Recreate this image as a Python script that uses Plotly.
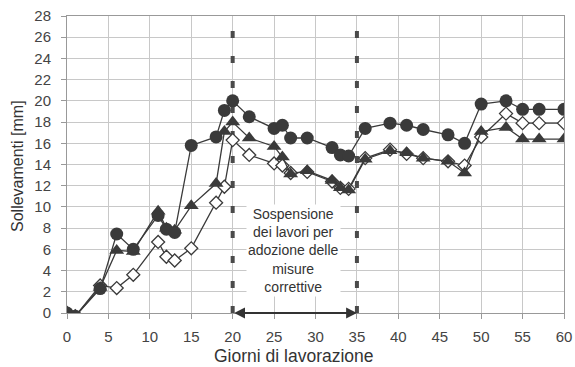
import plotly.graph_objects as go

days = [0, 1, 4, 6, 8, 11, 12, 13, 15, 18, 19, 20, 22, 25, 26, 27, 29, 32, 33, 34,
        36, 39, 41, 43, 46, 48, 50, 53, 55, 57, 60]

serie_cerchi = [0, -0.3, 2.3, 7.45, 6.0, 9.2, 7.9, 7.6, 15.8, 16.6, 19.1, 20.0, 18.5, 17.4, 17.7,
                16.5, 16.5, 15.6, 14.9, 14.8, 17.4, 17.9, 17.7, 17.3, 16.8, 16.0, 19.7, 20.0,
                19.2, 19.2, 19.2]
serie_triangoli = [0, -0.3, 2.4, 5.9, 5.8, 9.6, 8.0, 7.8, 10.1, 12.2, 17.1, 18.0, 16.5, 15.7, 14.7,
                   13.1, 13.4, 12.5, 11.8, 11.6, 14.5, 15.3, 15.1, 14.6, 14.3, 13.2, 17.1, 17.5,
                   16.4, 16.4, 16.4]
serie_rombi = [0, -0.3, 2.6, 2.35, 3.6, 6.7, 5.3, 4.95, 6.1, 10.4, 11.9, 16.3, 14.9, 14.1, 13.9,
               13.2, 13.3, 12.4, 11.8, 11.7, 14.6, 15.4, 15.0, 14.6, 14.3, 13.9, 16.6, 18.8,
               17.9, 17.9, 17.9]

sospensione = [20, 35]
testo_box = "Sospensione<br>dei lavori per<br>adozione delle<br>misure<br>correttive"

x_ticks = list(range(0, 61, 5))
y_ticks = list(range(0, 29, 2))

ink = "#3a3a3a"
fnt = "Liberation Sans, Arial, sans-serif"
fig = go.Figure()

# dashed vertical lines
for xv in sospensione:
    fig.add_trace(go.Scatter(x=[xv, xv], y=[0, 27.2], mode="lines",
                             line=dict(color="#4a4a4a", width=4, dash="7px,18px"),
                             hoverinfo="skip", showlegend=False))

fig.add_trace(go.Scatter(x=days, y=serie_rombi, mode="lines+markers",
                         line=dict(color=ink, width=1.3),
                         marker=dict(symbol="diamond", size=10, color="white",
                                     line=dict(color=ink, width=1.3)),
                         showlegend=False))
fig.add_trace(go.Scatter(x=days, y=serie_triangoli, mode="lines+markers",
                         line=dict(color=ink, width=1.3),
                         marker=dict(symbol="triangle-up", size=13, color=ink),
                         showlegend=False))
fig.add_trace(go.Scatter(x=days, y=serie_cerchi, mode="lines+markers",
                         line=dict(color=ink, width=1.3),
                         marker=dict(symbol="circle", size=13, color=ink),
                         showlegend=False))

# double arrow
fig.add_annotation(x=sospensione[1], y=0, ax=sospensione[0], ay=0,
                   xref="x", yref="y", axref="x", ayref="y",
                   text="", showarrow=True, arrowhead=2, startarrowhead=2,
                   arrowside="end+start", arrowwidth=1.8, arrowsize=1.2,
                   startarrowsize=1.2, arrowcolor="#333")

fig.add_annotation(x=27.4, y=5.9, xref="x", yref="y", text=testo_box,
                   showarrow=False, bgcolor="white",
                   font=dict(family=fnt, size=14, color="#333"),
                   align="center")

fig.add_annotation(x=0.457, y=0, xref="paper", yref="paper", yshift=-43,
                   yanchor="middle", xanchor="center",
                   text="Giorni di lavorazione", showarrow=False,
                   font=dict(family=fnt, size=17.5, color="#333"))
fig.add_annotation(x=0, y=0.495, xref="paper", yref="paper", xshift=-49,
                   xanchor="center", yanchor="middle",
                   text="Sollevamenti [mm]", showarrow=False, textangle=-90,
                   font=dict(family=fnt, size=16, color="#333"))

fig.update_layout(
    width=575, height=367,
    margin=dict(l=67, r=11, t=16, b=54, autoexpand=False),
    paper_bgcolor="white", plot_bgcolor="white",
    font=dict(family=fnt, size=15, color="#444"),
    xaxis=dict(range=[0, 60], tickvals=x_ticks, showgrid=True, gridcolor="#c8c8c8",
               gridwidth=1, zeroline=False, showline=True, linecolor="#999", mirror=True,
               ticks="outside", ticklen=5, tickcolor="#999", ticklabelstandoff=5,
               automargin=False),
    yaxis=dict(range=[0, 28], tickvals=y_ticks, showgrid=True, gridcolor="#c8c8c8",
               gridwidth=1, zeroline=False, showline=True, linecolor="#999", mirror=True,
               ticks="outside", ticklen=5, tickcolor="#999", ticklabelstandoff=7,
               automargin=False),
)

fig.write_html("out.html", config={"displayModeBar": False},
               post_script="document.body.style.margin='0';document.body.style.overflow='hidden';")
